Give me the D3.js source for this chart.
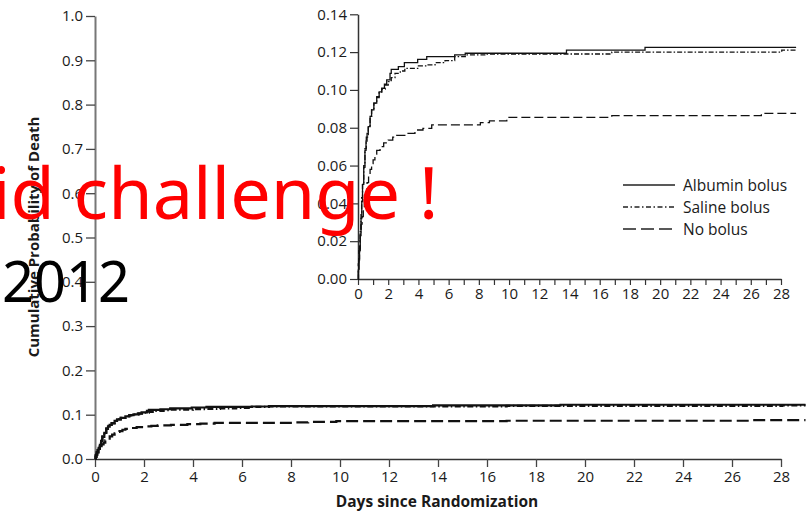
<!DOCTYPE html>
<html>
<head>
<meta charset="utf-8">
<script src="https://cdn.jsdelivr.net/npm/d3@7"></script>
<style>
  html, body { margin: 0; padding: 0; background: #fff; }
  svg { display: block; font-family: "Open Sans", "Noto Sans", sans-serif; }
</style>
</head>
<body>
<svg id="chart" width="806" height="515"></svg>
<script>
// ---- data ----
const albuminDays = [0, 0.03, 0.06, 0.1, 0.15, 0.2, 0.25, 0.3, 0.38, 0.46, 0.53, 0.6, 0.68, 0.8, 0.9, 1.05, 1.24, 1.4, 1.57, 1.75, 1.9, 2.12, 2.2, 2.67, 3.07, 3.95, 4.55, 6.4, 7.1, 13.8, 19.0, 29.0];
const albuminProb = [0, 0.005, 0.010, 0.015, 0.023, 0.032, 0.041, 0.05, 0.059, 0.068, 0.073, 0.077, 0.0806, 0.086, 0.0894, 0.093, 0.0965, 0.099, 0.1009, 0.103, 0.1053, 0.1088, 0.1109, 0.1123, 0.1144, 0.1162, 0.1176, 0.1185, 0.1194, 0.1211, 0.1225, 0.1225];

const salineDays = [0, 0.03, 0.06, 0.1, 0.15, 0.2, 0.24, 0.3, 0.38, 0.46, 0.55, 0.68, 0.8, 0.9, 1.05, 1.24, 1.4, 1.57, 1.8, 2.0, 2.2, 2.45, 2.8, 3.1, 4.0, 4.55, 5.1, 5.76, 6.4, 7.1, 8.5, 16.8, 28.05, 29.0];
const salineProb = [0, 0.005, 0.010, 0.016, 0.025, 0.035, 0.043, 0.051, 0.060, 0.069, 0.075, 0.081, 0.086, 0.0894, 0.093, 0.096, 0.0985, 0.1005, 0.1025, 0.1044, 0.1065, 0.1088, 0.110, 0.1114, 0.1127, 0.1132, 0.1144, 0.1155, 0.1176, 0.1185, 0.119, 0.120, 0.1211, 0.1211];

const noBolusDays = [0, 0.02, 0.06, 0.1, 0.15, 0.2, 0.27, 0.35, 0.42, 0.5, 0.6, 0.7, 0.8, 0.9, 1.0, 1.12, 1.24, 1.46, 1.7, 2.0, 2.3, 2.56, 3.1, 3.77, 4.3, 4.88, 8.1, 8.7, 9.85, 16.8, 26.7, 29.0];
const noBolusProb = [0, 0.008, 0.015, 0.02, 0.025, 0.029, 0.033, 0.037, 0.042, 0.046, 0.051, 0.055, 0.058, 0.061, 0.063, 0.066, 0.068, 0.070, 0.072, 0.0735, 0.075, 0.076, 0.077, 0.0788, 0.0797, 0.0815, 0.0827, 0.0836, 0.0855, 0.0864, 0.0876, 0.0876];

const seriesNames = ["Albumin bolus", "Saline bolus", "No bolus"];
const mainYTicks = [0, 0.1, 0.2, 0.3, 0.4, 0.5, 0.6, 0.7, 0.8, 0.9, 1.0];
const mainXTicks = [0, 2, 4, 6, 8, 10, 12, 14, 16, 18, 20, 22, 24, 26, 28];
const insetYTicks = [0, 0.02, 0.04, 0.06, 0.08, 0.10, 0.12, 0.14];
const insetXTicks = d3.range(0, 29, 1);
const xTitle = "Days since Randomization";
const yTitle = "Cumulative Probability of Death";
const overlayRed = "id challenge !";
const overlayYear = "2012";

// ---- build ----
const series = [
  { name: seriesNames[0], pts: albuminDays.map((d, i) => [d, albuminProb[i]]), dash: null, dashInset: null, dashLegend: null },
  { name: seriesNames[1], pts: salineDays.map((d, i) => [d, salineProb[i]]), dash: "6,2.5,1.5,2.5", dashInset: "5,2,1.5,2", dashLegend: "5,2.5,1.5,2.5" },
  { name: seriesNames[2], pts: noBolusDays.map((d, i) => [d, noBolusProb[i]]), dash: "12,5", dashInset: "9,4", dashLegend: "13,5" }
];
const drawOrder = [2, 1, 0];

const svg = d3.select("#chart");
const textColor = "#1a1a1a";

// Main chart
const mx = d3.scaleLinear().domain([0, 28]).range([95, 781]);
const my = d3.scaleLinear().domain([0, 1]).range([459, 16]);

const mxAxis = svg.append("g").attr("transform", `translate(0,${my(0)})`)
  .call(d3.axisBottom(mx).tickValues(mainXTicks).tickSize(8).tickSizeOuter(0).tickPadding(4).tickFormat(d3.format("d")));
const myAxis = svg.append("g").attr("transform", `translate(${mx(0)},0)`)
  .call(d3.axisLeft(my).tickValues(mainYTicks).tickSize(9).tickSizeOuter(0).tickPadding(3).tickFormat(d3.format(".1f")));
[mxAxis, myAxis].forEach(g => {
  g.selectAll("text").attr("font-size", 15).attr("fill", textColor).attr("font-family", "Open Sans");
  g.selectAll(".tick line").attr("stroke", "#444").attr("stroke-width", 1.3);
});
mxAxis.select(".domain").attr("stroke", "#333").attr("stroke-width", 1.5);
myAxis.select(".domain").attr("stroke", "#777").attr("stroke-width", 2);

const mline = d3.line().x(d => mx(d[0])).y(d => my(d[1])).curve(d3.curveStepAfter);
drawOrder.forEach(i => {
  const s = series[i];
  svg.append("path").datum(s.pts)
    .attr("d", mline).attr("fill", "none").attr("stroke", "#111")
    .attr("stroke-width", 2.2).attr("stroke-dasharray", s.dash);
});

svg.append("text").attr("x", 437).attr("y", 507).attr("text-anchor", "middle")
  .attr("font-size", 15.5).attr("font-weight", 700).attr("fill", textColor).text(xTitle);
svg.append("text").attr("transform", "translate(39,237) rotate(-90)").attr("text-anchor", "middle")
  .attr("font-size", 15).attr("font-weight", 700).attr("fill", textColor).text(yTitle);

// Inset chart
const ix = d3.scaleLinear().domain([0, 28]).range([358, 781]);
const iy = d3.scaleLinear().domain([0, 0.14]).range([279, 14.3]);

const ixAxis = svg.append("g").attr("transform", `translate(0,${iy(0)})`)
  .call(d3.axisBottom(ix).tickValues(insetXTicks).tickSize(6).tickSizeOuter(0).tickPadding(3)
    .tickFormat(d => d % 2 === 0 ? d3.format("d")(d) : ""));
const iyAxis = svg.append("g").attr("transform", `translate(${ix(0)},0)`)
  .call(d3.axisLeft(iy).tickValues(insetYTicks).tickSize(8).tickSizeOuter(0).tickPadding(3).tickFormat(d3.format(".2f")));
[ixAxis, iyAxis].forEach(g => {
  g.selectAll("text").attr("font-size", 15).attr("fill", textColor).attr("font-family", "Open Sans");
  g.selectAll(".tick line").attr("stroke", "#333").attr("stroke-width", 1.2);
  g.select(".domain").attr("stroke", "#333").attr("stroke-width", 1.5);
});

const iline = d3.line().x(d => ix(d[0])).y(d => iy(d[1])).curve(d3.curveStepAfter);
drawOrder.forEach(i => {
  const s = series[i];
  svg.append("path").datum(s.pts)
    .attr("d", iline).attr("fill", "none").attr("stroke", "#111")
    .attr("stroke-width", 1.3).attr("stroke-dasharray", s.dashInset);
});

// Legend
const legend = svg.append("g");
series.forEach((s, i) => {
  const y = 185 + i * 22;
  legend.append("line").attr("x1", 623).attr("x2", 675).attr("y1", y).attr("y2", y)
    .attr("stroke", "#222").attr("stroke-width", 1.3).attr("stroke-dasharray", s.dashLegend);
  legend.append("text").attr("x", 683).attr("y", y + 5.5).attr("font-size", 15.5)
    .attr("fill", textColor).text(s.name);
});

// Overlay texts
svg.append("text").attr("x", -8).attr("y", 219).attr("font-size", 72)
  .attr("font-family", "Noto Sans").attr("fill", "#ff0000").text(overlayRed);
svg.append("text").attr("x", 2).attr("y", 302).attr("font-size", 56)
  .attr("font-family", "Noto Sans").attr("fill", "#000").text(overlayYear);
</script>
</body>
</html>
